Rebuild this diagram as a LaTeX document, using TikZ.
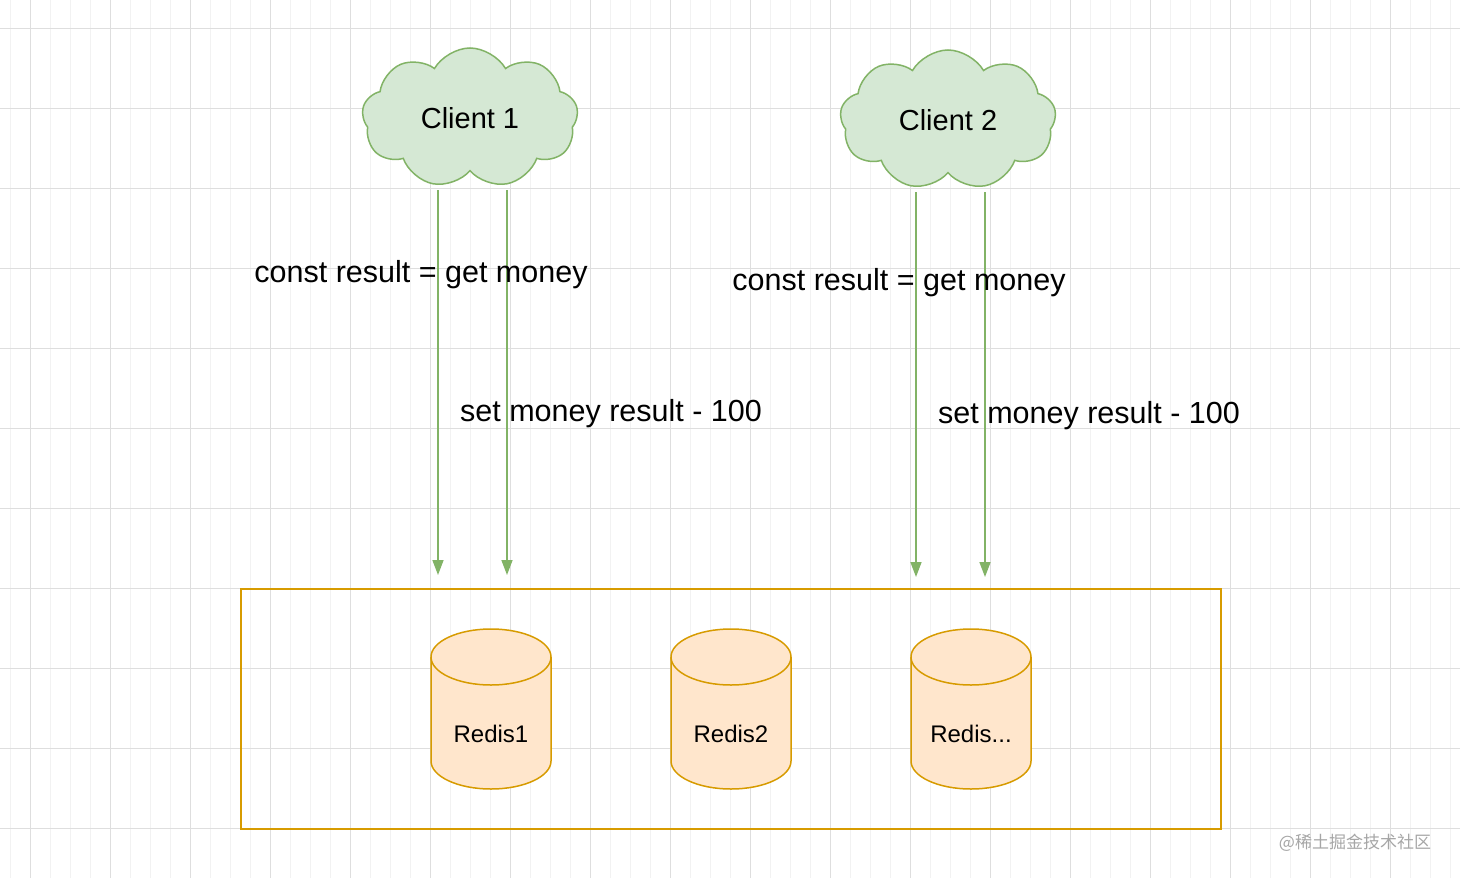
\documentclass[tikz,border=0pt]{standalone}
\usepackage{fontspec}
\setmainfont{Liberation Sans}
\newfontfamily\cjk{Noto Sans CJK SC}
\usetikzlibrary{shapes.symbols,arrows.meta}
\definecolor{gstroke}{HTML}{82B366}
\definecolor{gfill}{HTML}{D5E8D4}
\definecolor{ostroke}{HTML}{D79B00}
\definecolor{ofill}{HTML}{FFE6CC}
\newcommand\mycyl[3]{%
  \draw[cyl] (#1-60,657) -- (#1-60,761) arc[start angle=180,end angle=0,x radius=60,y radius=28] -- (#1+60,657) arc[start angle=0,end angle=-180,x radius=60,y radius=28] -- cycle;
  \draw[cyl] (#1-60,657) arc[start angle=180,end angle=0,x radius=60,y radius=28];
  \node[dbl] (#3) at (#1,734) {#2};}
\begin{document}
\begin{tikzpicture}[x=1pt,y=-1pt,
  cloudn/.style={cloud,cloud puffs=9,cloud puff arc=120,aspect=1.5,draw=gstroke,fill=gfill,line width=1.5pt,minimum width=216pt,minimum height=140pt,font=\fontsize{29}{31}\selectfont,inner sep=0pt},
  arr/.style={draw=gstroke,line width=1.5pt,-{Triangle[width=11pt,length=15pt]}},
  lbl/.style={font=\fontsize{30.5}{32}\selectfont,inner sep=0pt},
  cyl/.style={draw=ostroke,fill=ofill,line width=1.5pt},
  dbl/.style={font=\fontsize{24}{26}\selectfont,inner sep=0pt}]
\useasboundingbox (0,0) rectangle (1460,878);
\fill[white] (0,0) rectangle (1460,878);
\foreach \x in {10,30,...,1450} \draw[black!5,line width=1pt] (\x,0) -- (\x,878);
\foreach \x in {30,110,...,1450} \draw[black!13,line width=1pt] (\x,0) -- (\x,878);
\foreach \y in {28,108,...,870} \draw[black!13,line width=1pt] (0,\y) -- (1460,\y);
\node[cloudn] (c1) at (470,118) {Client 1};
\node[cloudn] (c2) at (948,120) {Client 2};
\coordinate (a1) at (438,575); \coordinate (b1) at (507,575);
\coordinate (a2) at (916,577); \coordinate (b2) at (985,577);
\coordinate (sa1) at (438,190); \coordinate (sb1) at (507,190);
\coordinate (sa2) at (916,192); \coordinate (sb2) at (985,192);
\draw[arr] (sa1) -- (a1);
\draw[arr] (sb1) -- (b1);
\draw[arr] (sa2) -- (a2);
\draw[arr] (sb2) -- (b2);
\node[lbl] (l1) at (421,275) {const result = get money};
\node[lbl] (l2) at (611,414) {set money result - 100};
\node[lbl] (l3) at (899,283) {const result = get money};
\node[lbl] (l4) at (1089,416) {set money result - 100};
\node[draw=ostroke,line width=1.5pt,minimum width=980pt,minimum height=240pt,inner sep=0pt] (box) at (731,709) {};
\mycyl{491}{Redis1}{r1}
\mycyl{731}{Redis2}{r2}
\mycyl{971}{Redis...}{r3}
\node[font=\cjk\fontsize{17}{19}\selectfont,text=black!35,inner sep=0pt] (wm) at (1355,843) {@稀土掘金技术社区};
\end{tikzpicture}
\end{document}
